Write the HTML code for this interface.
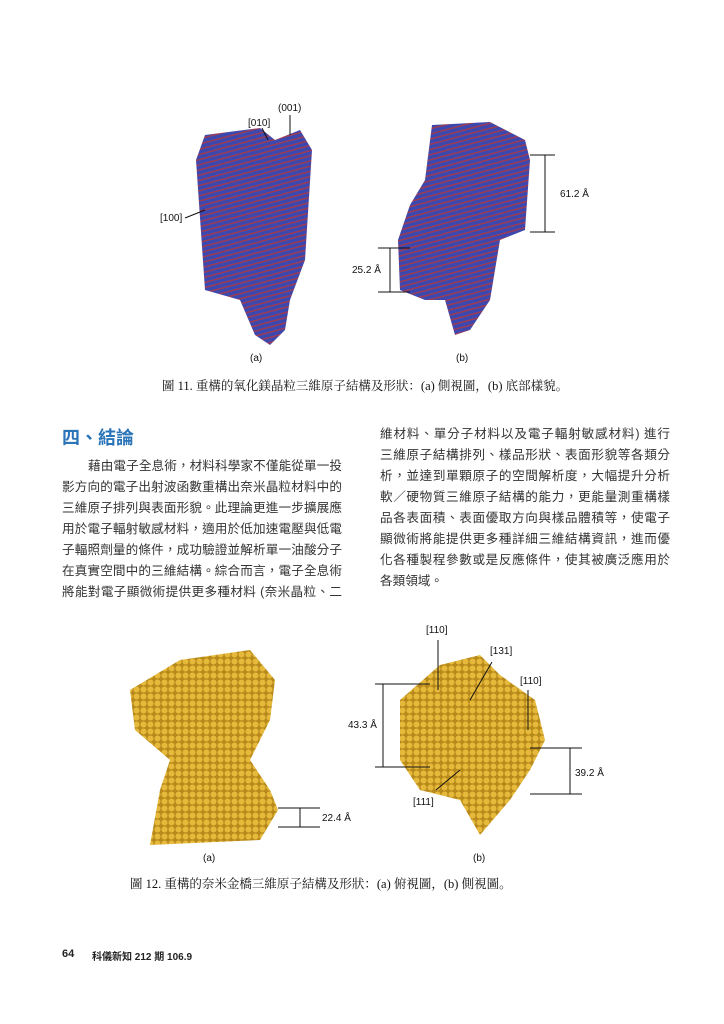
<!DOCTYPE html>
<html><head><meta charset="utf-8"><style>
body{margin:0;width:724px;height:1024px;background:#fff;position:relative;overflow:hidden;font-family:"Liberation Sans","Noto Sans CJK TC",sans-serif;color:#222}
.a{position:absolute;white-space:nowrap}
.l{position:absolute;font-size:12.6px;line-height:21px;height:21px;text-align:justify;text-align-last:justify;white-space:nowrap;color:#333}
.s{font-size:10px;color:#111}
.cap{font-family:"Liberation Serif","Noto Serif CJK SC",serif;font-size:12.5px;color:#111}
</style></head><body>
<svg class="a" style="left:0;top:0" width="724" height="1024">
<defs>
<pattern id="bl" width="5" height="5" patternUnits="userSpaceOnUse" patternTransform="rotate(75)">
<rect width="5" height="5" fill="#3a48b0"/><rect width="1.6" height="5" fill="#9a3c58"/></pattern>
<pattern id="gd" width="7" height="7" patternUnits="userSpaceOnUse">
<rect width="7" height="7" fill="#b88a1c"/><circle cx="3.5" cy="3.5" r="3" fill="#e6b93a"/></pattern>
</defs>
<polygon fill="url(#bl)" points="205,135 260,128 275,140 300,130 312,150 305,260 290,300 285,330 270,345 255,335 240,300 205,290 196,160"/>
<polygon fill="url(#bl)" points="432,125 490,122 525,140 530,160 525,230 500,240 490,300 470,330 455,335 445,300 425,300 400,290 398,240 410,205 425,180"/>
<polygon fill="url(#gd)" points="130,690 180,660 250,650 275,680 270,720 250,760 270,790 278,810 260,840 150,845 160,790 170,760 135,730"/>
<polygon fill="url(#gd)" points="400,700 440,665 480,655 500,675 535,700 545,740 530,770 510,800 480,835 460,800 420,790 400,760"/>
<g stroke="#111" stroke-width="1" fill="none">
<line x1="290" y1="135" x2="290" y2="115"/><line x1="268" y1="140" x2="262" y2="128"/><line x1="185" y1="218" x2="205" y2="210"/>
<line x1="530" y1="155" x2="555" y2="155"/><line x1="530" y1="232" x2="555" y2="232"/><line x1="545" y1="155" x2="545" y2="232"/>
<line x1="378" y1="248" x2="410" y2="248"/><line x1="378" y1="292" x2="410" y2="292"/><line x1="390" y1="248" x2="390" y2="292"/>
<line x1="278" y1="808" x2="320" y2="808"/><line x1="278" y1="827" x2="320" y2="827"/><line x1="300" y1="808" x2="300" y2="827"/>
<line x1="375" y1="684" x2="430" y2="684"/><line x1="375" y1="767" x2="430" y2="767"/><line x1="383" y1="684" x2="383" y2="767"/>
<line x1="530" y1="748" x2="582" y2="748"/><line x1="530" y1="794" x2="582" y2="794"/><line x1="570" y1="748" x2="570" y2="794"/>
<line x1="438" y1="690" x2="438" y2="640"/><line x1="470" y1="700" x2="492" y2="662"/><line x1="528" y1="730" x2="528" y2="690"/><line x1="460" y1="770" x2="436" y2="790"/>
</g>
</svg>
<div class="a s" style="left:278px;top:103px">(001)</div>
<div class="a s" style="left:248px;top:118px">[010]</div>
<div class="a s" style="left:160px;top:213px">[100]</div>
<div class="a s" style="left:560px;top:189px">61.2 Å</div>
<div class="a s" style="left:352px;top:265px">25.2 Å</div>
<div class="a s" style="left:250px;top:353px">(a)</div>
<div class="a s" style="left:456px;top:353px">(b)</div>
<div class="a cap" style="left:162px;top:376px">圖 11. 重構的氧化鎂晶粒三維原子結構及形狀：(a) 側視圖，(b) 底部樣貌。</div>
<div class="a" style="left:62px;top:424px;font-size:18px;font-weight:bold;color:#2a74b8">四、結論</div>
<div class="l" style="left:88px;top:456px;width:254px">藉由電子全息術，材料科學家不僅能從單一投</div>
<div class="l" style="left:62px;top:477px;width:280px">影方向的電子出射波函數重構出奈米晶粒材料中的</div>
<div class="l" style="left:62px;top:498px;width:280px">三維原子排列與表面形貌。此理論更進一步擴展應</div>
<div class="l" style="left:62px;top:519px;width:280px">用於電子輻射敏感材料，適用於低加速電壓與低電</div>
<div class="l" style="left:62px;top:540px;width:280px">子輻照劑量的條件，成功驗證並解析單一油酸分子</div>
<div class="l" style="left:62px;top:561px;width:280px">在真實空間中的三維結構。綜合而言，電子全息術</div>
<div class="l" style="left:62px;top:582px;width:280px">將能對電子顯微術提供更多種材料 (奈米晶粒、二</div>
<div class="l" style="left:380px;top:424px;width:290px">維材料、單分子材料以及電子輻射敏感材料) 進行</div>
<div class="l" style="left:380px;top:445px;width:290px">三維原子結構排列、樣品形狀、表面形貌等各類分</div>
<div class="l" style="left:380px;top:466px;width:290px">析，並達到單顆原子的空間解析度，大幅提升分析</div>
<div class="l" style="left:380px;top:487px;width:290px">軟／硬物質三維原子結構的能力，更能量測重構樣</div>
<div class="l" style="left:380px;top:508px;width:290px">品各表面積、表面優取方向與樣品體積等，使電子</div>
<div class="l" style="left:380px;top:529px;width:290px">顯微術將能提供更多種詳細三維結構資訊，進而優</div>
<div class="l" style="left:380px;top:550px;width:290px">化各種製程參數或是反應條件，使其被廣泛應用於</div>
<div class="l" style="left:380px;top:571px;width:290px;text-align-last:left">各類領域。</div>
<div class="a s" style="left:426px;top:625px">[110]</div>
<div class="a s" style="left:490px;top:646px">[131]</div>
<div class="a s" style="left:520px;top:676px">[110]</div>
<div class="a s" style="left:348px;top:720px">43.3 Å</div>
<div class="a s" style="left:575px;top:768px">39.2 Å</div>
<div class="a s" style="left:413px;top:797px">[111]</div>
<div class="a s" style="left:322px;top:813px">22.4 Å</div>
<div class="a s" style="left:203px;top:853px">(a)</div>
<div class="a s" style="left:473px;top:853px">(b)</div>
<div class="a cap" style="left:130px;top:874px">圖 12. 重構的奈米金橋三維原子結構及形狀：(a) 俯視圖，(b) 側視圖。</div>
<div class="a" style="left:62px;top:948px;font-size:11px;font-weight:bold">64</div>
<div class="a" style="left:92px;top:948px;font-size:10px;font-weight:bold">科儀新知 212 期 106.9</div>
</body></html>
